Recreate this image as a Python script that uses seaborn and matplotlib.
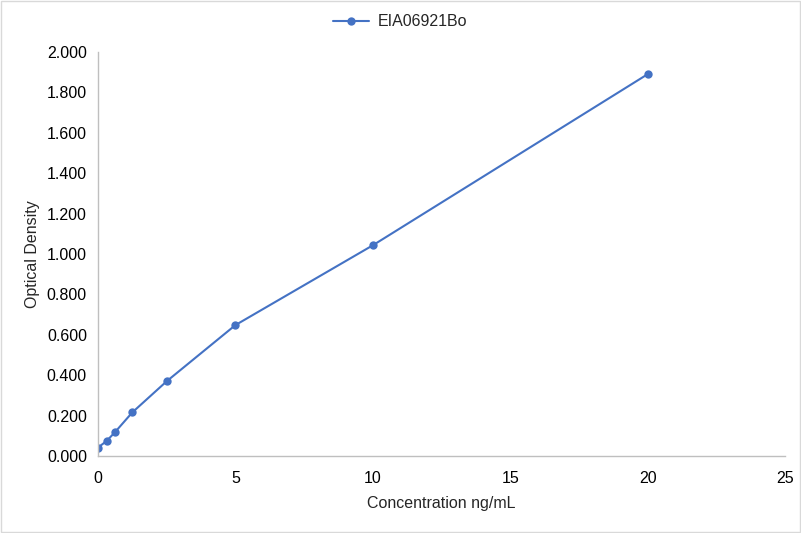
import numpy as np
import pandas as pd
import matplotlib
matplotlib.use('Agg')
import matplotlib.pyplot as plt
import seaborn as sns

# standard curve values
concentration = [0, 0.3125, 0.625, 1.25, 2.5, 5, 10, 20]
optical_density = [0.042, 0.074, 0.119, 0.216, 0.370, 0.648, 1.043, 1.890]
series_name = 'EIA06921Bo'

df = pd.DataFrame({'conc': concentration, 'od': optical_density, 'series': series_name})

sns.set_style('white')
plt.rcParams['font.family'] = ['Liberation Sans', 'DejaVu Sans']

fig = plt.figure(figsize=(8.01, 5.33), dpi=100)
ax = fig.add_axes([98 / 801, 77 / 533, 687 / 801, 404 / 533])

sns.lineplot(data=df, x='conc', y='od', hue='series', palette=['#4472C4'],
             marker='o', markersize=6, markeredgewidth=0, linewidth=1.5, ax=ax)

ax.set_xlim(0, 25)
ax.set_ylim(0, 2.0)
ax.set_xticks([0, 5, 10, 15, 20, 25])
ax.set_yticks(np.arange(0, 2.01, 0.2))
ax.set_yticklabels(['%.3f' % v for v in np.arange(0, 2.01, 0.2)])
ax.tick_params(axis='both', length=0, labelsize=11.5, colors='#000000')
ax.tick_params(axis='x', pad=11)
ax.tick_params(axis='y', pad=8)

for side in ['top', 'right']:
    ax.spines[side].set_visible(False)
for side in ['left', 'bottom']:
    ax.spines[side].set_color('#BFBFBF')
    ax.spines[side].set_linewidth(1)

ax.set_xlabel('Concentration ng/mL', fontsize=11.5, labelpad=7)
ax.set_ylabel('Optical Density', fontsize=11.5, labelpad=5)

handles, labels = ax.get_legend_handles_labels()
ax.legend_.remove()
fig.legend(handles, labels, loc='center', bbox_to_anchor=(0.5, 1 - 22 / 533), frameon=False,
           fontsize=11.5, handlelength=2.2, handletextpad=0.6)

fig.patches.append(plt.Rectangle((0.0008, 0.001), 0.9984, 0.997, transform=fig.transFigure,
                                 fill=False, edgecolor='#D9D9D9', linewidth=1))

fig.savefig('out.png', dpi=100)
